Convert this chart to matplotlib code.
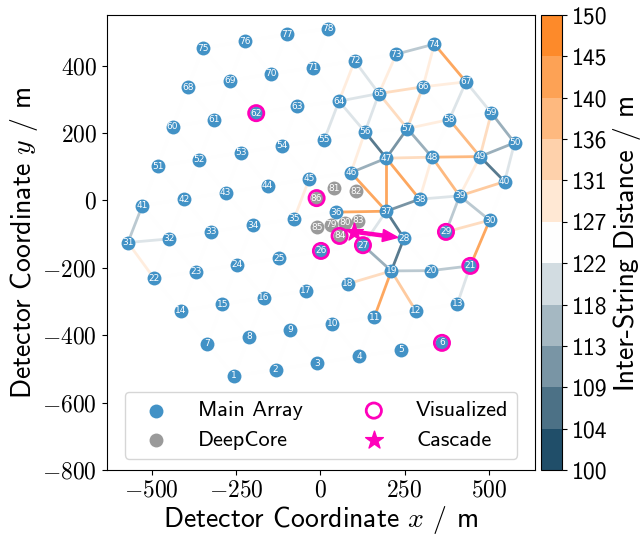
import numpy as np
import matplotlib
matplotlib.use('Agg')
import matplotlib.pyplot as plt
from matplotlib.colors import LinearSegmentedColormap, BoundaryNorm
from matplotlib.collections import LineCollection
from matplotlib.cm import ScalarMappable
from matplotlib.ticker import FuncFormatter

plt.rcParams['font.family'] = ['cmss10', 'DejaVu Sans']
plt.rcParams['mathtext.fontset'] = 'cm'
plt.rcParams['axes.unicode_minus'] = True

# string positions (m), string number = index + 1
string_x = [-256.1, -132.6, -9.0, 115.0, 238.5, 361.0,
            -335.3, -211.6, -89.0, 35.6, 160.2, 282.9, 406.5,
            -414.5, -290.8, -167.1, -43.4, 81.1, 210.7, 328.4, 445.1,
            -493.5, -370.0, -247.2, -121.7, 1.9, 126.6, 248.3, 372.9, 502.5,
            -570.9, -449.0, -325.5, -200.9, -78.0, 46.3, 195.8, 294.7, 413.4, 547.0,
            -528.2, -403.6, -281.0, -156.4, -32.6, 91.0, 195.8, 331.4, 473.9, 576.4,
            -482.7, -359.5, -235.4, -112.8, 11.9, 132.6, 258.2, 382.8, 507.4,
            -438.4, -314.5, -190.2, -68.2, 55.4, 174.0, 304.7, 432.3,
            -393.0, -268.5, -145.1, -21.8, 101.9, 225.5, 338.4,
            -347.9, -224.6, -100.2, 22.1,
            31.3, 72.4, 41.6, 106.9, 113.2, 57.2, -9.7, -11.0]
string_y = [-521.1, -502.5, -483.0, -463.0, -443.5, -422.8,
            -425.0, -404.3, -384.4, -365.7, -346.7, -327.0, -307.2,
            -328.0, -308.1, -288.5, -268.6, -247.8, -209.3, -208.4, -194.4,
            -231.0, -211.3, -191.5, -171.6, -150.0, -133.0, -112.3, -93.5, -58.8,
            -125.1, -114.3, -93.5, -73.6, -54.9, -34.9, -32.1, 3.6, 13.4, 55.8,
            -15.4, 3.6, 23.2, 43.0, 64.5, 82.5, 125.3, 128.2, 130.0, 170.9,
            102.0, 121.2, 141.9, 161.7, 180.5, 203.3, 213.2, 239.9, 259.7,
            219.0, 238.9, 258.8, 278.6, 294.4, 317.0, 337.0, 351.7,
            336.0, 355.6, 375.4, 394.0, 414.0, 434.0, 463.7,
            451.5, 472.5, 492.3, 509.5,
            -72.9, -66.6, 35.5, 27.1, -60.5, -105.5, -79.5, 6.7]
n_main = 78
visualized = [6, 21, 26, 27, 29, 62, 84, 86]
cascade_pos = (99.0, -93.0)
cascade_end = (230.0, -110.0)

blue = '#4292c6'
grey = '#9a9a9a'
magenta = '#ff00bb'

xs = np.array(string_x)
ys = np.array(string_y)

cmap = LinearSegmentedColormap.from_list('isd', ['#204e69', 'white', '#fd8a2a'])
bounds = np.linspace(100, 150, 12)
norm = BoundaryNorm(bounds, cmap.N)

# neighbour links in the main array
segs = []
dists = []
for i in range(n_main):
    for j in range(i + 1, n_main):
        d = np.hypot(xs[i] - xs[j], ys[i] - ys[j])
        if d < 160:
            segs.append([(xs[i], ys[i]), (xs[j], ys[j])])
            dists.append(d)
dists = np.clip(dists, 100, 149.9)

fig = plt.figure(figsize=(6.41, 5.41), dpi=100)
ax = fig.add_axes([0.1669, 0.1312, 0.6677, 0.8411])
cax = fig.add_axes([0.844, 0.1312, 0.0328, 0.8411])

lc = LineCollection(segs, colors=cmap(norm(dists)), linewidths=2, alpha=0.75, zorder=1)
ax.add_collection(lc)

ax.scatter(xs[:n_main], ys[:n_main], s=100, color=blue, zorder=2, label='Main Array', linewidths=0)
ax.scatter(xs[n_main:], ys[n_main:], s=100, color=grey, zorder=2, label='DeepCore', linewidths=0)
vis = np.array(visualized) - 1
ax.scatter(xs[vis], ys[vis], s=120, facecolors='none', edgecolors=magenta, linewidths=2,
           zorder=3, label='Visualized')
for k in range(len(xs)):
    ax.text(xs[k], ys[k], str(k + 1), color='white', fontsize=6.5, ha='center', va='center',
            family='DejaVu Sans', zorder=4)

ax.arrow(cascade_pos[0], cascade_pos[1], cascade_end[0] - cascade_pos[0], cascade_end[1] - cascade_pos[1],
         width=9, head_width=36, head_length=45, length_includes_head=True, color=magenta, zorder=5)
ax.scatter([cascade_pos[0]], [cascade_pos[1]], marker='*', s=180, color=magenta, zorder=5, label='Cascade')

ax.set_xlim(-633, 637)
ax.set_ylim(-800, 550)
ax.set_aspect('equal', adjustable='box')
ax.set_xticks([-500, -250, 0, 250, 500])
ax.set_yticks([-800, -600, -400, -200, 0, 200, 400])
fmt = FuncFormatter(lambda v, p: r'$%d$' % v)
ax.xaxis.set_major_formatter(fmt)
ax.yaxis.set_major_formatter(fmt)
ax.tick_params(labelsize=17)
ax.set_xlabel(r'Detector Coordinate $x$ / m', fontsize=20, labelpad=2)
ax.set_ylabel(r'Detector Coordinate $y$ / m', fontsize=20, labelpad=2)

ax.legend(loc='lower center', ncol=2, fontsize=16, columnspacing=2.2, handlelength=2.0,
          handletextpad=0.9, borderpad=0.4, labelspacing=0.45, borderaxespad=0.5)

cb = fig.colorbar(ScalarMappable(norm=norm, cmap=cmap), cax=cax)
cb.set_ticks(bounds)
cb.set_ticklabels([str(int(b)) for b in bounds])
cb.ax.tick_params(labelsize=17)
cb.set_label('Inter-String Distance / m', fontsize=20)

fig.savefig('out.png', dpi=100)
